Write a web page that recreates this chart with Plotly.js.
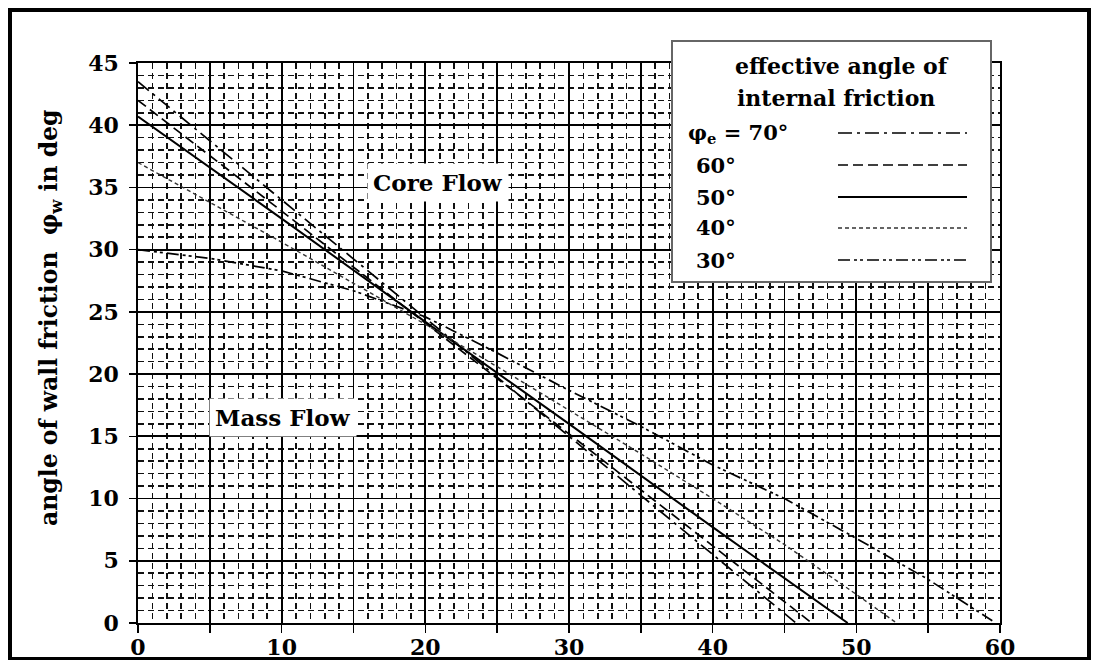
<!DOCTYPE html>
<html>
<head>
<meta charset="utf-8">
<script src="https://cdn.plot.ly/plotly-3.0.1.min.js"></script>
<style>
  html, body { margin: 0; padding: 0; background: #fff; }
  #chart { width: 1097px; height: 660px; }
</style>
</head>
<body>
<div id="chart"></div>
<script>
// ---- data ----
const x70 = [0, 10, 20, 30, 40, 45.8];
const y70 = [43.5, 34.0, 24.5, 15.0, 5.5, 0];
const x60 = [0, 10, 20, 30, 40, 46.9];
const y60 = [42.0, 33.1, 24.1, 15.2, 6.2, 0];
const x50 = [0, 10, 20, 30, 40, 49.4];
const y50 = [40.7, 32.5, 24.2, 16.0, 7.7, 0];
const x40 = [0, 5, 10, 15, 20, 25, 30, 35, 40, 45, 50, 52.8];
const y40 = [37.0, 33.8, 30.6, 27.3, 24.0, 20.6, 17.1, 13.6, 10.0, 6.3, 2.3, 0];
const x30 = [0, 5, 10, 15, 20, 25, 30, 35, 40, 45, 50, 55, 59.7];
const y30 = [30.0, 29.3, 28.3, 26.7, 24.6, 21.7, 18.7, 15.8, 12.7, 10.0, 6.8, 3.5, 0];

const seriesLabels = ['φ<sub>e</sub> = 70°', '60°', '50°', '40°', '30°'];
const legendTitle = ['effective angle of', 'internal friction'];
const xTickVals = [0, 5, 10, 15, 20, 25, 30, 35, 40, 45, 50, 55, 60];
const xTickText = ['0', ' ', '10', ' ', '20', ' ', '30', ' ', '40', ' ', '50', ' ', '60'];
const yTickVals = [0, 5, 10, 15, 20, 25, 30, 35, 40, 45];
const yTitle = 'angle of wall friction  φ<sub>w</sub> in deg';
const regionLabels = ['Core Flow', 'Mass Flow'];

// ---- styles ----
const FONT = 'DejaVu Serif';
const styles = [
  {dash: '14px,5px,3px,5px', width: 1.7, color: '#000'},
  {dash: '10px,5px', width: 1.7, color: '#000'},
  {dash: 'solid', width: 2, color: '#000'},
  {dash: '4px,3px', width: 1.4, color: '#333'},
  {dash: '12px,4px,3px,3px,3px,4px', width: 1.7, color: '#000'}
];
const xs = [x70, x60, x50, x40, x30];
const ys = [y70, y60, y50, y40, y30];

const traces = xs.map((xx, i) => ({
  x: xx, y: ys[i], type: 'scatter', mode: 'lines',
  line: {color: styles[i].color, width: styles[i].width, dash: styles[i].dash},
  showlegend: false, hoverinfo: 'skip'
}));

// plot area in pixels: left 138, right 1000, top 63, bottom 623
const L = 138, R = 1000, T = 63, B = 623;
const px = v => (v - L) / (R - L);
const py = v => (B - v) / (B - T);

const shapes = [
  // outer frame
  {type: 'rect', xref: 'paper', yref: 'paper', x0: px(10), x1: px(1089), y0: py(659), y1: py(10),
   line: {color: '#000', width: 4}, fillcolor: 'rgba(0,0,0,0)', layer: 'above'},
  // legend box
  {type: 'rect', xref: 'paper', yref: 'paper', x0: px(672), x1: px(991), y0: py(282), y1: py(41),
   line: {color: '#666', width: 2}, fillcolor: '#fff', layer: 'above'}
];
const legendRows = [133, 165, 197, 228, 260];
legendRows.forEach((r, i) => {
  shapes.push({type: 'line', xref: 'paper', yref: 'paper', x0: px(838), x1: px(967), y0: py(r), y1: py(r),
    line: {color: styles[i].color, width: styles[i].width, dash: styles[i].dash}, layer: 'above'});
});

const annFont = (s) => ({family: FONT, size: s, color: '#000', weight: 'bold'});
const annotations = [
  {xref: 'paper', yref: 'paper', x: px(50), y: py(318), text: yTitle, textangle: -90,
   showarrow: false, xanchor: 'center', yanchor: 'middle', font: annFont(23.5)},
  {xref: 'x', yref: 'y', x: 20.9, y: 35.4, text: regionLabels[0], showarrow: false,
   bgcolor: '#fff', borderpad: 5, font: annFont(23)},
  {xref: 'x', yref: 'y', x: 10.1, y: 16.5, text: regionLabels[1], showarrow: false,
   bgcolor: '#fff', borderpad: 5, font: annFont(23)},
  {xref: 'paper', yref: 'paper', x: px(842), y: py(66), text: legendTitle[0], showarrow: false,
   xanchor: 'center', yanchor: 'middle', font: annFont(22)},
  {xref: 'paper', yref: 'paper', x: px(836), y: py(98), text: legendTitle[1], showarrow: false,
   xanchor: 'center', yanchor: 'middle', font: annFont(22)}
];
seriesLabels.forEach((t, i) => {
  annotations.push({xref: 'paper', yref: 'paper', x: px(i === 0 ? 686 : 694), y: py(legendRows[i]),
    text: t, showarrow: false, xanchor: 'left', yanchor: 'middle', font: annFont(21)});
});

const axisCommon = {
  showgrid: true, gridcolor: '#000', gridwidth: 1.8,
  zeroline: false, showline: true, linecolor: '#000', linewidth: 1.8, mirror: true,
  ticks: 'outside', tickcolor: '#000', tickwidth: 1.5,
  tickfont: {family: FONT, size: 22, color: '#000', weight: 'bold'},
  minor: {dtick: 1, tick0: 0, showgrid: true, gridcolor: '#111', gridwidth: 1.6, griddash: '6px,4px', ticks: ''}
};

const layout = {
  width: 1097, height: 660,
  margin: {l: L, r: 1097 - R, t: T, b: 660 - B},
  paper_bgcolor: '#fff', plot_bgcolor: '#fff',
  showlegend: false,
  xaxis: Object.assign({}, axisCommon, {
    range: [0, 60], tickmode: 'array', tickvals: xTickVals, ticktext: xTickText,
    ticklen: 8, ticklabelstandoff: -4
  }),
  yaxis: Object.assign({}, axisCommon, {
    range: [0, 45], tickmode: 'array', tickvals: yTickVals,
    ticklen: 7, ticklabelstandoff: 6
  }),
  shapes: shapes,
  annotations: annotations
};

Plotly.newPlot('chart', traces, layout, {staticPlot: true, displayModeBar: false});
</script>
</body>
</html>
